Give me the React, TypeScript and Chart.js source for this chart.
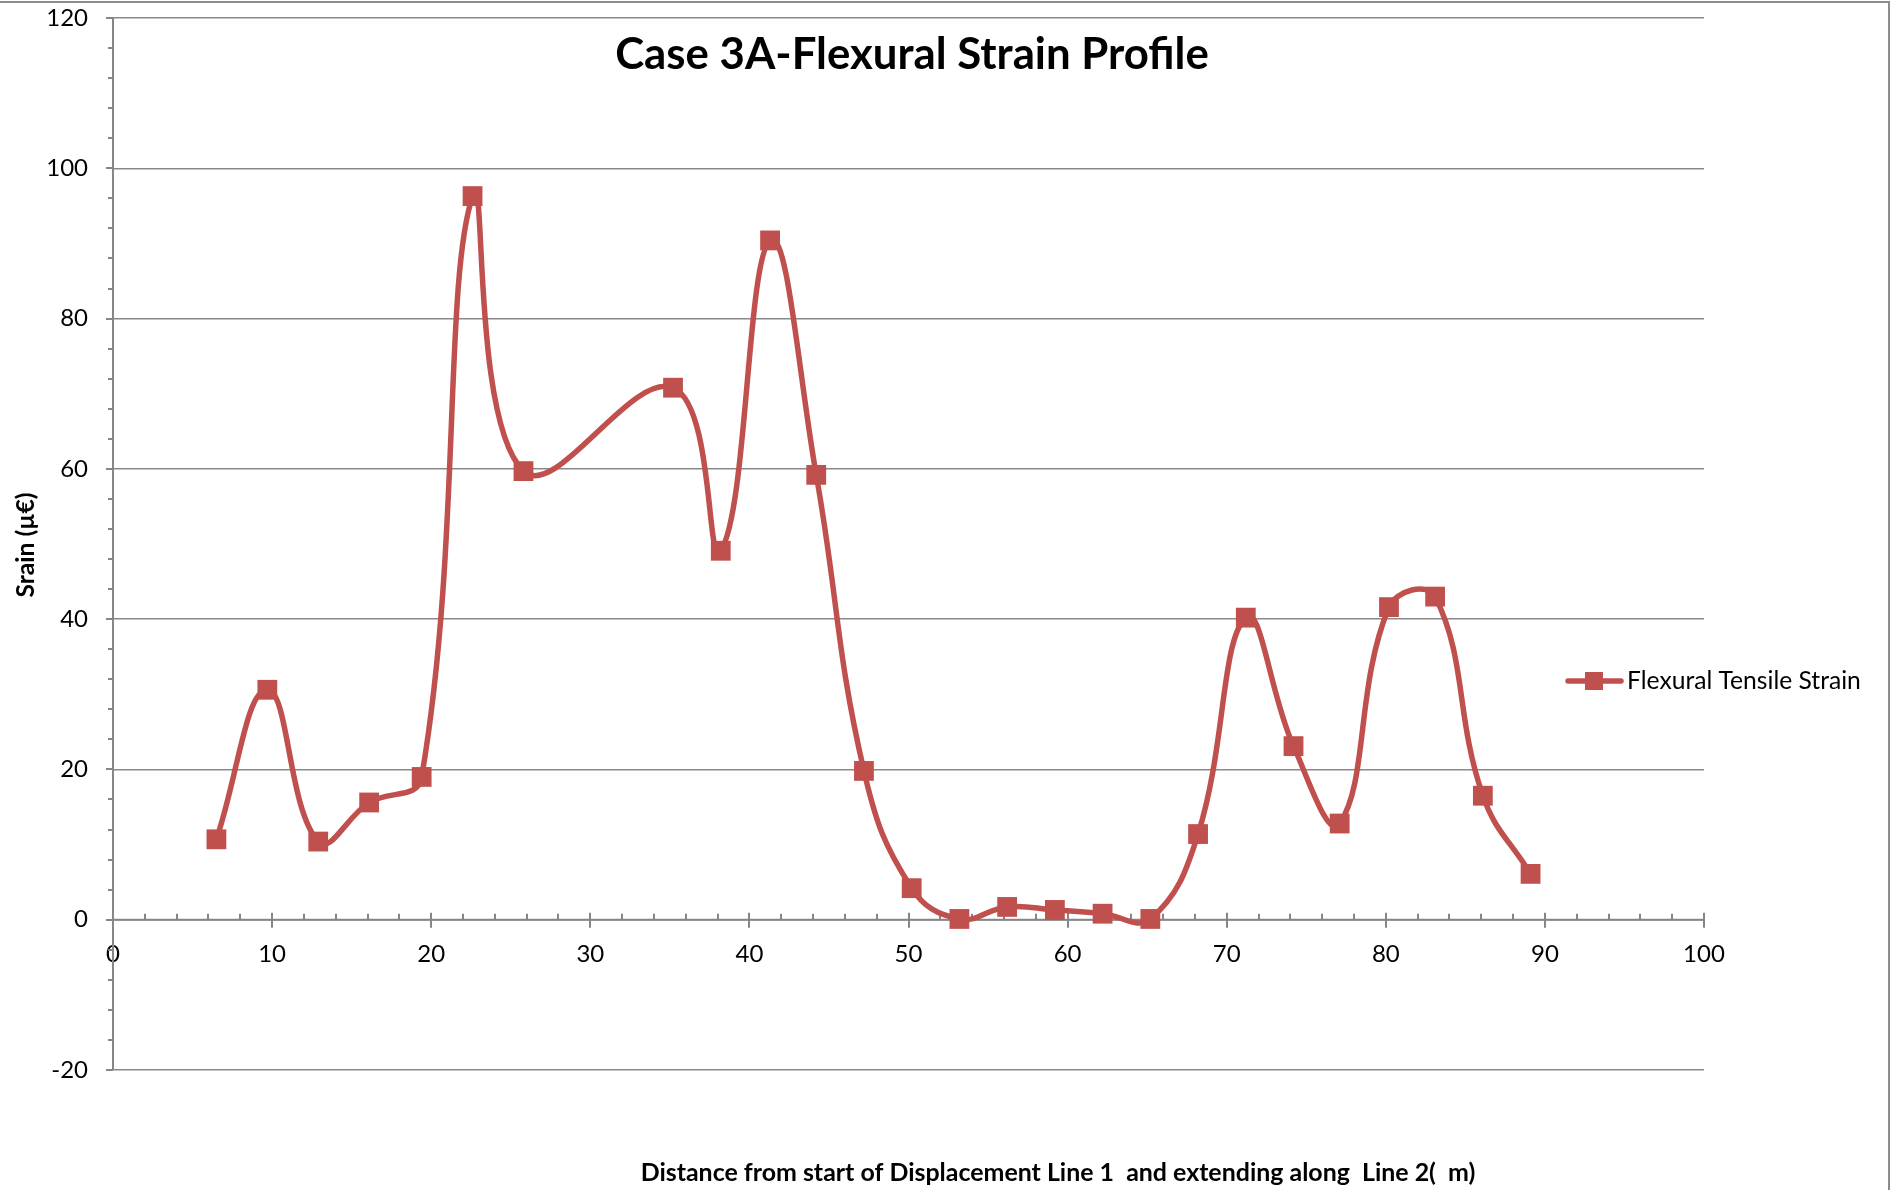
import React, { useEffect, useRef } from 'react';
import { Chart, registerables } from 'chart.js';

Chart.register(...registerables);

// ---- data ----
const distances = [6.5, 9.7, 12.9, 16.1, 19.4, 22.6, 25.8, 35.2, 38.2, 41.3, 44.2, 47.2, 50.2, 53.2, 56.2, 59.2, 62.2, 65.2, 68.2, 71.2, 74.2, 77.1, 80.2, 83.1, 86.1, 89.1];
const strains = [10.7, 30.6, 10.4, 15.6, 19.0, 96.3, 59.7, 70.8, 49.1, 90.4, 59.2, 19.8, 4.2, 0.1, 1.7, 1.3, 0.8, 0.1, 11.4, 40.2, 23.1, 12.8, 41.6, 43.0, 16.5, 6.1];
const xTickValues = [0, 10, 20, 30, 40, 50, 60, 70, 80, 90, 100];
const yTickValues = [-20, 0, 20, 40, 60, 80, 100, 120];
const seriesName = 'Flexural Tensile Strain';
const chartTitle = 'Case 3A-Flexural Strain Profile';
const xAxisTitle = 'Distance from start of Displacement Line 1  and extending along  Line 2(  m)';
const yAxisTitle = 'Srain (µ€)';

// ---- styles ----
const RED = '#C0504D';
const GRID = '#898989';
const AXIS = '#868686';
const FONT = 'Lato, "Open Sans", sans-serif';

function fitSize(ctx: CanvasRenderingContext2D, text: string, weight: string, target: number) {
  ctx.font = `${weight} 100px ${FONT}`;
  const w = ctx.measureText(text).width;
  return (100 * target) / w;
}

const excelDecor = {
  id: 'excelDecor',
  beforeDraw(chart: any) {
    const { ctx, width, height } = chart;
    ctx.save();
    ctx.strokeStyle = '#8c8c8c';
    ctx.lineWidth = 2;
    ctx.beginPath();
    ctx.moveTo(0, 2);
    ctx.lineTo(width - 5, 2);
    ctx.lineTo(width - 5, height);
    ctx.stroke();
    ctx.restore();
  },
  beforeDatasetsDraw(chart: any) {
    const { ctx, chartArea, scales } = chart;
    const xs = scales.x;
    const ys = scales.y;
    const y0 = ys.getPixelForValue(0);
    ctx.save();
    ctx.strokeStyle = AXIS;
    ctx.lineWidth = 2;
    ctx.beginPath();
    ctx.moveTo(chartArea.left, y0);
    ctx.lineTo(chartArea.right, y0);
    for (let v = 0; v <= 100; v += 2) {
      const px = Math.round(xs.getPixelForValue(v));
      if (v % 10 === 0) {
        ctx.moveTo(px, y0 - 7);
        ctx.lineTo(px, y0 + 8);
      } else {
        ctx.moveTo(px, y0 - 6);
        ctx.lineTo(px, y0);
      }
    }
    for (let v = -20; v <= 120; v += 4) {
      const py = Math.round(ys.getPixelForValue(v));
      const len = v % 20 === 0 ? 7 : 5;
      ctx.moveTo(chartArea.left - len, py);
      ctx.lineTo(chartArea.left, py);
    }
    ctx.stroke();
    ctx.restore();
  },
  afterDraw(chart: any) {
    const { ctx } = chart;
    ctx.save();
    ctx.fillStyle = '#000';
    ctx.textBaseline = 'alphabetic';

    // main title
    const ts = fitSize(ctx, chartTitle, 'bold', 594);
    ctx.font = `bold ${ts}px ${FONT}`;
    ctx.textAlign = 'center';
    ctx.fillText(chartTitle, 912, 69);

    // x axis title
    const xs = fitSize(ctx, xAxisTitle, 'bold', 835);
    ctx.font = `bold ${xs}px ${FONT}`;
    ctx.fillText(xAxisTitle, 1058, 1181);

    // y axis title
    const ysz = fitSize(ctx, yAxisTitle, 'bold', 105);
    ctx.font = `bold ${ysz}px ${FONT}`;
    ctx.translate(34, 545);
    ctx.rotate(-Math.PI / 2);
    ctx.fillText(yAxisTitle, 0, 0);
    ctx.setTransform(1, 0, 0, 1, 0, 0);

    // legend
    const ds = chart.data.datasets[0];
    const ly = 681;
    ctx.strokeStyle = ds.borderColor;
    ctx.lineWidth = 5.5;
    ctx.lineCap = 'round';
    ctx.beginPath();
    ctx.moveTo(1568, ly);
    ctx.lineTo(1621, ly);
    ctx.stroke();
    ctx.fillStyle = ds.pointBackgroundColor;
    ctx.fillRect(1594 - 9, ly - 9, 18, 18);
    const ls = fitSize(ctx, ds.label, 'normal', 234);
    ctx.font = `normal ${ls}px ${FONT}`;
    ctx.fillStyle = '#000';
    ctx.textAlign = 'left';
    ctx.fillText(ds.label, 1627, 689);
    ctx.restore();
  },
};

export default function App() {
  const canvasRef = useRef<HTMLCanvasElement | null>(null);

  useEffect(() => {
    if (!canvasRef.current) return;
    const points = distances.map((d, i) => ({ x: d, y: strains[i] }));
    const chart = new Chart(canvasRef.current, {
      type: 'line',
      data: {
        datasets: [
          {
            label: seriesName,
            data: points,
            borderColor: RED,
            borderWidth: 5.5,
            tension: 0.42,
            pointStyle: 'rect',
            pointRadius: 14,
            pointHoverRadius: 14,
            pointBackgroundColor: RED,
            pointBorderColor: RED,
            pointBorderWidth: 0,
          } as any,
        ],
      },
      options: {
        animation: false,
        responsive: false,
        devicePixelRatio: 1,
        events: [],
        layout: { padding: { left: 0, top: 18, right: 190, bottom: 120 } },
        plugins: {
          legend: { display: false },
          title: { display: false },
          tooltip: { enabled: false },
        },
        scales: {
          x: {
            type: 'linear',
            position: { y: 0 } as any,
            min: 0,
            max: 100,
            afterBuildTicks: (scale: any) => {
              scale.ticks = xTickValues.map((v) => ({ value: v }));
            },
            grid: { display: false, drawTicks: false },
            border: { display: false },
            ticks: {
              color: '#000',
              padding: 20,
              maxRotation: 0,
              autoSkip: false,
              font: { family: FONT, size: 24 },
            },
          },
          y: {
            type: 'linear',
            min: -20,
            max: 120,
            afterBuildTicks: (scale: any) => {
              scale.ticks = yTickValues.map((v) => ({ value: v }));
            },
            afterFit: (scale: any) => {
              scale.width = 113;
            },
            grid: {
              color: GRID,
              lineWidth: 1.5,
              drawTicks: true,
              tickLength: 25,
              tickColor: 'rgba(0,0,0,0)',
            },
            border: { display: true, color: AXIS, width: 2 },
            ticks: {
              color: '#000',
              padding: 0,
              autoSkip: false,
              font: { family: FONT, size: 24 },
            },
          },
        },
      },
      plugins: [excelDecor],
    });
    return () => chart.destroy();
  }, []);

  return (
    <div style={{ position: 'absolute', left: 0, top: 0, width: 1894, height: 1190 }}>
      <canvas ref={canvasRef} width={1894} height={1190} style={{ display: 'block' }} />
    </div>
  );
}
